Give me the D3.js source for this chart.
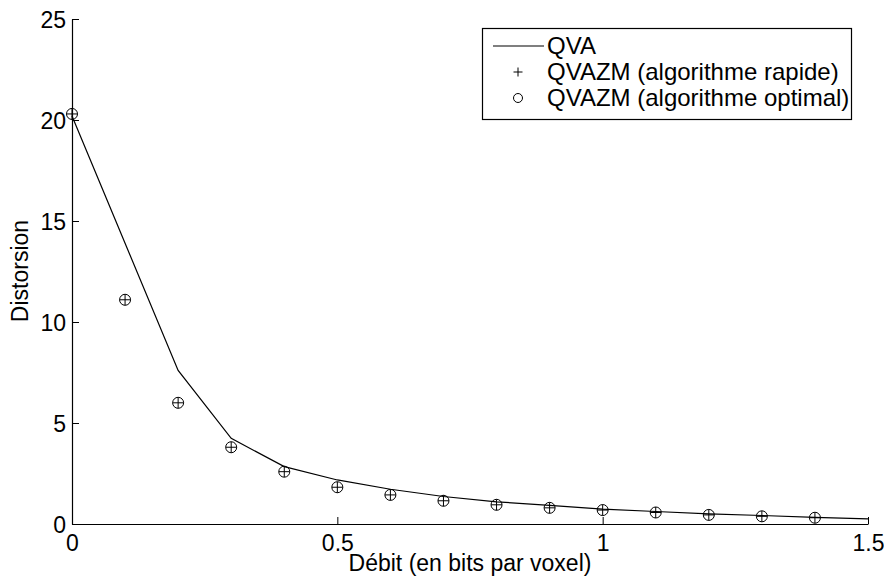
<!DOCTYPE html>
<html><head><meta charset="utf-8">
<script src="https://cdn.jsdelivr.net/npm/d3@7"></script>
<style>body{margin:0;background:#fff}svg{display:block}text{font-family:"Liberation Sans",Arial,sans-serif;fill:#000}</style>
</head><body>
<svg id="c" width="884" height="580"></svg>
<script>
const xTicks = [0, 0.5, 1, 1.5];
const xTickLabels = ["0", "0.5", "1", "1.5"];
const yTicks = [0, 5, 10, 15, 20, 25];
const yTickLabels = ["0", "5", "10", "15", "20", "25"];
const rates = [0, 0.1, 0.2, 0.3, 0.4, 0.5, 0.6, 0.7, 0.8, 0.9, 1.0, 1.1, 1.2, 1.3, 1.4, 1.5];
const qva = [20.2, 13.9, 7.6, 4.24, 2.84, 2.18, 1.72, 1.36, 1.1, 0.92, 0.74, 0.62, 0.5, 0.42, 0.33, 0.25];
const markerRates = [0, 0.1, 0.2, 0.3, 0.4, 0.5, 0.6, 0.7, 0.8, 0.9, 1.0, 1.1, 1.2, 1.3, 1.4];
const qvazmRapide = [20.3, 11.1, 6.0, 3.8, 2.59, 1.82, 1.44, 1.15, 0.95, 0.8, 0.69, 0.57, 0.45, 0.38, 0.31];
const qvazmOptimal = [20.3, 11.1, 6.0, 3.8, 2.59, 1.82, 1.44, 1.15, 0.95, 0.8, 0.69, 0.57, 0.45, 0.38, 0.31];
const legendLabels = ["QVA", "QVAZM (algorithme rapide)", "QVAZM (algorithme optimal)"];

const svg = d3.select("#c");
const L = 72, R = 868, T = 19, B = 524;
const x = d3.scaleLinear().domain([0, 1.5]).range([L, R]);
const y = d3.scaleLinear().domain([0, 25]).range([B, T]);
const FS = 23;

const xAxis = d3.axisBottom(x).tickValues(xTicks).tickFormat((d,i)=>xTickLabels[i]).tickSizeInner(-7).tickSizeOuter(0).tickPadding(11);
const gx = svg.append("g").attr("transform", `translate(0,${B})`).call(xAxis);
const yAxis = d3.axisLeft(y).tickValues(yTicks).tickFormat((d,i)=>yTickLabels[i]).tickSizeInner(-7).tickSizeOuter(0).tickPadding(6);
const gy = svg.append("g").attr("transform", `translate(${L},0)`).call(yAxis);
[gx, gy].forEach(g => {
  g.select(".domain").attr("stroke", "#000").attr("stroke-width", 1.2);
  g.selectAll(".tick line").attr("stroke", "#000").attr("stroke-width", 1);
  g.selectAll("text").attr("font-size", FS).attr("font-family", '"Liberation Sans",Arial,sans-serif').attr("fill", "#000");
});
gx.selectAll(".tick text").attr("dy", "0.71em");
gy.selectAll(".tick text").attr("dy", "0.35em");

svg.append("text").attr("x", (L+R)/2).attr("y", 571).attr("text-anchor", "middle").attr("font-size", FS).text("Débit (en bits par voxel)");
svg.append("text").attr("transform", "translate(28,271) rotate(-90)").attr("text-anchor", "middle").attr("font-size", FS).text("Distorsion");

const line = d3.line().x((d,i)=>x(rates[i])).y(d=>y(d));
svg.append("path").datum(qva).attr("d", line).attr("fill", "none").attr("stroke", "#000").attr("stroke-width", 1.2);

const r = 5.5;
svg.append("g").selectAll("path").data(qvazmRapide).join("path")
  .attr("d", (d,i)=>{const cx=x(markerRates[i]), cy=y(d); return `M${cx-r},${cy}H${cx+r}M${cx},${cy-r}V${cy+r}`;})
  .attr("stroke", "#000").attr("stroke-width", 1);
svg.append("g").selectAll("circle").data(qvazmOptimal).join("circle")
  .attr("cx", (d,i)=>x(markerRates[i])).attr("cy", d=>y(d)).attr("r", r)
  .attr("fill", "none").attr("stroke", "#000").attr("stroke-width", 1);

// legend
const lg = svg.append("g");
lg.append("rect").attr("x", 482.5).attr("y", 28.5).attr("width", 369).attr("height", 91).attr("fill", "#fff").attr("stroke", "#000").attr("stroke-width", 1.2);
const rows = [46, 72, 98];
lg.append("line").attr("x1", 493).attr("x2", 544).attr("y1", rows[0]).attr("y2", rows[0]).attr("stroke", "#000").attr("stroke-width", 1.2);
lg.append("path").attr("d", `M${518-4.5},${rows[1]}H${518+4.5}M518,${rows[1]-4.5}V${rows[1]+4.5}`).attr("stroke", "#000").attr("stroke-width", 1);
lg.append("circle").attr("cx", 518).attr("cy", rows[2]).attr("r", 4.5).attr("fill", "none").attr("stroke", "#000").attr("stroke-width", 1);
lg.selectAll("text.lab").data(legendLabels).join("text").attr("class", "lab")
  .attr("x", 547).attr("y", (d,i)=>rows[i]).attr("dy", "0.35em").attr("font-size", 24).text(d=>d);
</script>
</body></html>
